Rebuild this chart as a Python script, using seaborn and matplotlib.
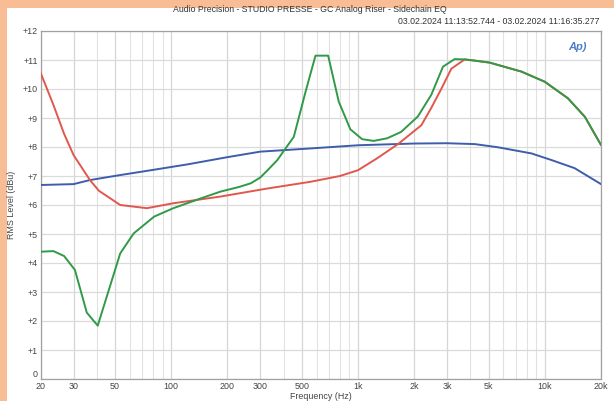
import matplotlib
matplotlib.use("Agg")
import matplotlib.pyplot as plt
import matplotlib.patches as mpatches
import numpy as np
import pandas as pd
import seaborn as sns

# Shared high-frequency section where the red and green responses coincide
tail_freq = [4200, 5070, 7500, 10000, 13300, 16400, 20000]
tail_level = [10.98, 10.91, 10.60, 10.25, 9.68, 9.04, 8.07]

green_freq = [20, 23.4, 26.7, 30.5, 35.3, 40.4, 53.3, 62.9, 81, 102.6, 140, 183,
              230, 267, 300, 328, 370, 404, 453, 527, 592, 692, 789, 910, 1052,
              1213, 1432, 1701, 2090, 2468, 2851, 3289, 3725] + tail_freq
green_level = [4.39, 4.41, 4.24, 3.76, 2.29, 1.84, 4.33, 5.02, 5.60, 5.89, 6.20, 6.46,
               6.62, 6.75, 6.95, 7.20, 7.55, 7.90, 8.35, 9.97, 11.15, 11.15, 9.56,
               8.61, 8.27, 8.21, 8.30, 8.52, 9.05, 9.80, 10.77, 11.03, 11.02] + tail_level

red_freq = [20, 23.4, 26.7, 30, 36.7, 41, 53.3, 74, 102.6, 183, 328, 556, 800,
            1000, 1265, 1637, 2183, 2468, 2790, 3160, 3725] + tail_freq
red_level = [10.55, 9.45, 8.45, 7.72, 6.86, 6.49, 6.00, 5.89, 6.06, 6.29, 6.57,
             6.80, 7.00, 7.20, 7.61, 8.10, 8.75, 9.35, 10.00, 10.70, 11.02] + tail_level

blue_freq = [20, 30, 36.7, 53, 78, 122, 200, 300, 556, 1000, 2000, 3000, 4220,
             5620, 8470, 10860, 14450, 20000]
blue_level = [6.69, 6.72, 6.86, 7.03, 7.20, 7.40, 7.65, 7.84, 7.95, 8.06, 8.12,
              8.13, 8.10, 7.99, 7.78, 7.55, 7.27, 6.72]

x_ticks = [20, 30, 50, 100, 200, 300, 500, 1000, 2000, 3000, 5000, 10000, 20000]
x_tick_labels = ["20", "30", "50", "100", "200", "300", "500", "1k", "2k", "3k",
                 "5k", "10k", "20k"]
y_ticks = list(range(0, 13))
y_tick_labels = ["0"] + [f"+{v}" for v in range(1, 13)]

title_line = "Audio Precision - STUDIO PRESSE - GC Analog Riser - Sidechain EQ"
time_line = "03.02.2024 11:13:52.744 - 03.02.2024 11:16:35.277"

sns.set_style("white")
plt.rcParams["font.family"] = ["Liberation Sans", "DejaVu Sans"]

W, H = 614, 401
fig = plt.figure(figsize=(W / 100, H / 100), dpi=100)
fig.patch.set_facecolor("#F8BD94")
# white page area behind the chart
page = mpatches.Rectangle((7 / W, 0), 1, 1 - 8 / H, transform=fig.transFigure,
                          facecolor="white", edgecolor="none", zorder=-10)
fig.add_artist(page)

ax = fig.add_axes([40.7 / W, 1 - 379 / H, (601 - 40.7) / W, (379 - 31) / H])
ax.set_facecolor("white")
ax.set_zorder(1)

frames = {
    "blue": pd.DataFrame({"freq": blue_freq, "level": blue_level}),
    "red": pd.DataFrame({"freq": red_freq, "level": red_level}),
    "green": pd.DataFrame({"freq": green_freq, "level": green_level}),
}
colors = {"blue": "#3E5DAA", "red": "#E2574C", "green": "#2F9A47"}
for name in ["blue", "red", "green"]:
    sns.lineplot(data=frames[name], x="freq", y="level", ax=ax, color=colors[name],
                 linewidth=1.4, sort=False, estimator=None, zorder=3)

ax.set_xscale("log")
ax.set_xlim(20, 20000)
ax.set_ylim(0, 12)

minor = []
for dec in [10, 100, 1000, 10000]:
    for m in range(1, 10):
        v = dec * m
        if 20 < v < 20000 and v not in x_ticks:
            minor.append(v)
ax.set_xticks(x_ticks)
ax.set_xticklabels(x_tick_labels)
ax.set_xticks(minor, minor=True)
ax.set_xticklabels([], minor=True)
ax.set_yticks(y_ticks)
ax.set_yticklabels(y_tick_labels)
ax.get_yticklabels()[0].set_va("bottom")
ax.grid(True, which="major", axis="x", color="#D6D6D6", linewidth=0.9)
ax.grid(True, which="minor", axis="x", color="#E2E2E2", linewidth=0.8)
ax.grid(True, which="major", axis="y", color="#DADADA", linewidth=0.9)
ax.tick_params(axis="both", which="both", length=0, labelsize=6.4, colors="#444444", pad=2)
for s in ax.spines.values():
    s.set_color("#A0A0A0")
    s.set_linewidth(0.9)

ax.set_xlabel("Frequency (Hz)", fontsize=6.4, color="#444444", labelpad=1)
ax.set_ylabel("RMS Level (dBu)", fontsize=6.4, color="#444444", labelpad=5)

fig.text(310 / W, 1 - 10 / H, title_line, ha="center", va="center", fontsize=6.3,
         color="#333333")
fig.text(600 / W, 1 - 22 / H, time_line, ha="right", va="center", fontsize=6.3,
         color="#333333")
ax.text(0.975, 0.955, "Ap)", transform=ax.transAxes, ha="right", va="center",
        fontsize=8, fontstyle="italic", fontweight="bold", color="#4A80C6")

fig.savefig("out.png", dpi=100, facecolor=fig.get_facecolor())
